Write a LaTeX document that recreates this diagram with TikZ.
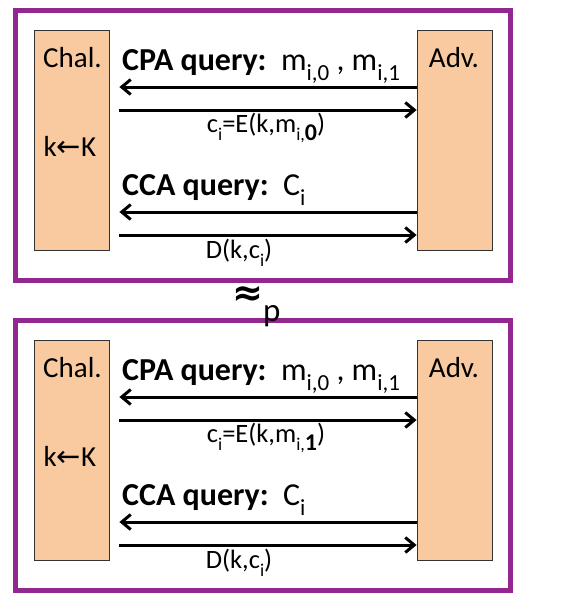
\documentclass[tikz,border=0pt]{standalone}
\usepackage{fontspec}
\setmainfont{Carlito}
\newfontfamily\symfont{DejaVu Sans}
\usetikzlibrary{arrows.meta}
\definecolor{gamepurple}{HTML}{92278F}
\definecolor{partypeach}{HTML}{F9C9A0}
% lowered index text
\newcommand\lo[2][20]{\raisebox{-.32em}{\fontsize{#1}{#1}\selectfont #2}}
\begin{document}
\begin{tikzpicture}[x=1pt,y=-1pt,
  game/.style={draw=gamepurple,line width=5pt,minimum width=495pt,minimum height=270pt,inner sep=0},
  party/.style={draw=black!80,fill=partypeach,line width=0.8pt,minimum width=75pt,minimum height=220pt,inner sep=0},
  msg/.style={line width=3pt,-{Straight Barb[length=9pt,width=15pt]}},
  partylabel/.style={font=\fontsize{29}{29}\selectfont,inner sep=0},
  big/.style={font=\fontsize{32}{32}\selectfont,inner sep=0},
  small/.style={font=\fontsize{26.5}{26.5}\selectfont,inner sep=0}]
\useasboundingbox (0,0) rectangle (560,600);
\foreach \b/\dy in {0/0,1/310}{
  % Draw frame and parties
  \node[game] (game\b) at (263,145.5+\dy) {};
  \node[party] (chal\b) at (71.5,140+\dy) {};
  \node[party] (adv\b) at (454.5,140+\dy) {};
  \node[partylabel,anchor=base] (chalname\b) at (72.5,67+\dy) {Chal.};
  \node[partylabel,anchor=base] (advname\b) at (454,67+\dy) {Adv.};
  \node[partylabel,anchor=base] (key\b) at (70,156+\dy) {k{\symfont ←}K};
  % Draw queries
  \node[big,anchor=base west] (cpa\b) at (122,70+\dy) {\textbf{CPA query:}\ \ m\lo[23]{i,0} , m\lo[23]{i,1}};
  \node[small,anchor=base] (enc\b) at (266,132+\dy) {c\lo[18]{i}=E(k,m\lo[18]{i,\textbf{\fontsize{24}{24}\selectfont\b}})};
  \node[big,anchor=base west] (cca\b) at (122,195+\dy) {\textbf{CCA query:}\ \ C\lo[23]{i}};
  \node[small,anchor=base] (dec\b) at (239,258+\dy) {D(k,c\lo[18]{i})};
  % Draw messages
  \coordinate (cpaq\b) at (0,87+\dy);
  \coordinate (cpaa\b) at (0,110+\dy);
  \coordinate (ccaq\b) at (0,212+\dy);
  \coordinate (ccaa\b) at (0,235+\dy);
  \draw[msg] (adv\b.west |- cpaq\b) -- ([xshift=10pt]chal\b.east |- cpaq\b);
  \draw[msg] ([xshift=10pt]chal\b.east |- cpaa\b) -- (adv\b.west |- cpaa\b);
  \draw[msg] (adv\b.west |- ccaq\b) -- ([xshift=10pt]chal\b.east |- ccaq\b);
  \draw[msg] ([xshift=10pt]chal\b.east |- ccaa\b) -- (adv\b.west |- ccaa\b);
}
% Approximately equal sign
\node[font=\symfont\bfseries\fontsize{37}{37}\selectfont,inner sep=0] (approx) at (248,296) {≈};
\node[font=\fontsize{33}{33}\selectfont,anchor=base west,inner sep=0] (poly) at (263,321) {p};
\end{tikzpicture}
\end{document}
